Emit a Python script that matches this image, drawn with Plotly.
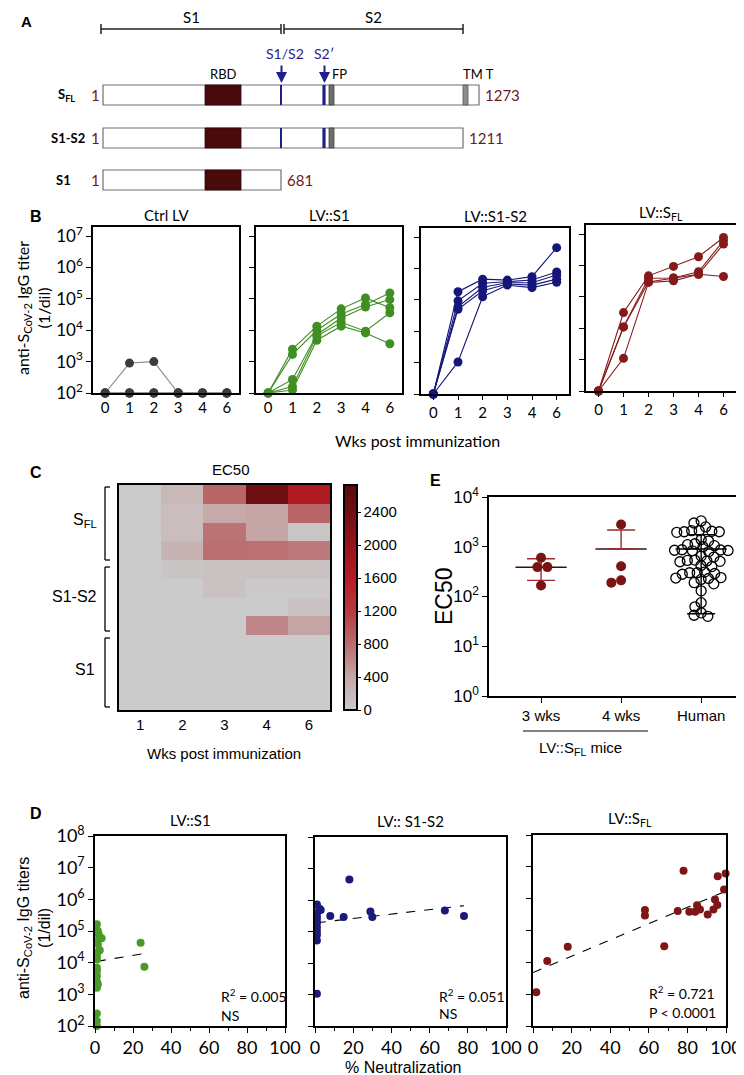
import plotly.graph_objects as go
import numpy as np

W, H = 744, 1075

# ---------------- Panel A (schematic, in schematic units) ----------------
constructs = ["S<sub>FL</sub>", "S1-S2", "S1"]
construct_len_labels = ["1273", "1211", "681"]
construct_end = [471, 455, 273]          # schematic end of each bar
construct_row = [87, 130, 172]           # schematic row centre
bar_start = 95
rbd_span = [197, 233]
s1s2_site = 273
s2p_site = 316
fp_span = [321, 326]
tm_span = [455, 460]
has_cleavage = [True, True, False]
has_tm = [True, False, False]
ruler_labels = ["S1", "S2"]
ruler_start = [93, 276]
ruler_end = [273, 455]

# ---------------- Panel B data (titers, 1/dil) ----------------
weeks_b = ["0", "1", "2", "3", "4", "6"]
ctrl_lv = [
    [100, 100, 100, 100, 100, 100],
    [100, 100, 100, 100, 100, 100],
    [100, 100, 100, 100, 100, 100],
    [100, 900, 1000, 100, 100, 100],
]
lv_s1 = [
    [100, 2500, 13500, 48000, 107000, 52000],
    [100, 1700, 10000, 33000, 66000, 155000],
    [100, 270, 7200, 24500, 55000, 95000],
    [100, 160, 6500, 18000, 9300, 36000],
    [100, 125, 4800, 13500, 8200, 3700],
]
lv_s1s2 = [
    [100, 182000, 457000, 427000, 550000, 4600000],
    [100, 93000, 339000, 380000, 427000, 776000],
    [100, 60000, 251000, 350000, 350000, 617000],
    [100, 50000, 195000, 320000, 295000, 457000],
    [100, 1050, 126000, 295000, 245000, 363000],
]
lv_sfl = [
    [100, 31600, 468000, 933000, 1900000, 7800000],
    [100, 11000, 390000, 398000, 630000, 6200000],
    [100, 1100, 288000, 324000, 525000, 447000],
    [100, 11000, 300000, 398000, 525000, 4800000],
]
b_titles = ["Ctrl LV", "LV::S1", "LV::S1-S2", "LV::S<sub>FL</sub>"]

# ---------------- Panel C data (EC50 heatmap) ----------------
weeks_c = ["1", "2", "3", "4", "6"]
ec50_rows = [
    [0, 200, 850, 2450, 1700],
    [0, 150, 350, 400, 850],
    [0, 150, 750, 400, 50],
    [0, 250, 780, 770, 700],
    [0, 60, 90, 100, 100],
    [0, 0, 100, 20, 20],
    [0, 0, 0, 0, 100],
    [0, 0, 0, 620, 400],
    [0, 0, 0, 0, 0],
    [0, 0, 0, 0, 0],
    [0, 0, 0, 0, 0],
    [0, 0, 0, 0, 0],
]
c_groups = ["S<sub>FL</sub>", "S1-S2", "S1"]

# ---------------- Panel E data ----------------
e_cats = ["3 wks", "4 wks", "Human"]
e_3wk = [390, 600, 390, 167]
e_4wk = [2800, 407, 190, 211]
e_human = [3300, 3000, 2500, 2000, 2100, 2050, 1950, 2000, 2100, 1400, 1300,
           1150, 1100, 1050, 1000, 870, 850, 830, 860, 840, 800, 650, 620,
           540, 520, 510, 530, 500, 420, 400, 300, 290, 310, 280, 300, 240,
           230, 235, 220, 190, 180, 130, 75, 62, 47, 40, 42]
e_mean = [387, 902, 900]
e_err_hi = [188, 1268, 850]
e_err_lo = [176, 0, 855]

# ---------------- Panel D data ----------------
d_s1_x = [1, 1.5, 2, 3.5, 1, 1.5, 2.5, 1, 1, 1, 1, 1, 1, 1, 1.5, 1, 1, 1, 1, 24, 26]
d_s1_y = [162000, 100000, 78000, 59000, 48000, 38000, 24500, 21000, 16200, 12700,
          6900, 5500, 3800, 2600, 2100, 1600, 250, 145, 100, 42600, 7400]
d_s1_fit_x = [1, 26]
d_s1_fit_y = [11000, 19500]
d_s1s2_x = [1, 2.3, 3, 1, 1, 1, 1, 1, 1, 1, 1, 1, 8, 15, 18, 29, 30, 68, 78]
d_s1s2_y = [725000, 525000, 480000, 380000, 295000, 233000, 182000, 135000, 100000,
            78000, 52000, 1050, 310000, 290000, 4500000, 430000, 290000, 460000, 310000]
d_s1s2_fit_x = [1, 78]
d_s1s2_fit_y = [190000, 660000]
d_sfl_x = [1.7, 7.4, 18, 58, 58, 68, 75, 78, 81, 84, 85, 86.5, 90.5, 93.5, 94.3, 95.5, 95.7, 99, 99.8]
d_sfl_y = [1150, 11000, 31000, 440000, 295000, 32000, 410000, 7600000, 390000, 390000,
           620000, 460000, 320000, 460000, 950000, 630000, 5100000, 1950000, 6200000]
d_sfl_fit_x = [0, 100]
d_sfl_fit_y = [4800, 1740000]
d_titles = ["LV::S1", "LV:: S1-S2", "LV::S<sub>FL</sub>"]
d_stats = [("R<sup>2</sup> = 0.005", "NS"), ("R<sup>2</sup> = 0.051", "NS"),
           ("R<sup>2</sup> = 0.721", "P < 0.0001")]

# ---------------- styling ----------------
CAL = "Lato, 'Open Sans', sans-serif"
ARI = "'Liberation Sans', Arial, sans-serif"
GREEN = "#3f8f22"
NAVY = "#16167a"
DRED = "#861a1a"
BROWN = "#6b1a1a"
BLUE = "#1f1f8c"

fig = go.Figure()
axes = {}


def add_axes(n, xpx, ypx, xkw, ykw):
    xa = "xaxis" if n == 1 else f"xaxis{n}"
    ya = "yaxis" if n == 1 else f"yaxis{n}"
    xr = "x" if n == 1 else f"x{n}"
    yr = "y" if n == 1 else f"y{n}"
    axes[xa] = dict(domain=[xpx[0] / W, xpx[1] / W], anchor=yr, automargin=False, **xkw)
    axes[ya] = dict(domain=[1 - ypx[1] / H, 1 - ypx[0] / H], anchor=xr, automargin=False, **ykw)
    return xr, yr


def base():
    return dict(showline=True, linecolor="black", linewidth=1.5, mirror=True,
                showgrid=False, zeroline=False, ticks="outside", tickcolor="black",
                ticklen=5, tickwidth=1.3)


annotations = []
shapes = []


def ann(text, x, y, size=14, family=CAL, color="black", xanchor="center",
        yanchor="middle", angle=0):
    annotations.append(dict(text=text, x=x / W, y=1 - y / H, xref="paper", yref="paper",
                            showarrow=False, xanchor=xanchor, yanchor=yanchor,
                            textangle=angle, font=dict(size=size, family=family, color=color)))


def pline(x0, y0, x1, y1, color="black", width=1.3):
    shapes.append(dict(type="line", xref="paper", yref="paper", x0=x0 / W, y0=1 - y0 / H,
                       x1=x1 / W, y1=1 - y1 / H, line=dict(color=color, width=width)))


# ---------------- Panel A ----------------
xa, ya = add_axes(10, (0, W), (0, 200),
                  dict(visible=False, range=[0, W]),
                  dict(visible=False, range=[200, 0]))


def ashape(**kw):
    d = dict(xref=xa, yref=ya)
    d.update(kw)
    shapes.append(d)


for lab, s, e in zip(ruler_labels, ruler_start, ruler_end):
    ashape(type="line", x0=s, x1=e, y0=21, y1=21, line=dict(color="#222", width=1.5))
    ashape(type="line", x0=s, x1=s, y0=16, y1=26, line=dict(color="#222", width=1.5))
    ashape(type="line", x0=e, x1=e, y0=16, y1=26, line=dict(color="#222", width=1.5))
    ann(lab, (s + e) / 2, 9, size=15)

for i, name in enumerate(constructs):
    yc = construct_row[i]
    ashape(type="rect", x0=bar_start, x1=construct_end[i], y0=yc - 10, y1=yc + 10,
           line=dict(color="#707070", width=1.2), fillcolor="white")
    ashape(type="rect", x0=rbd_span[0], x1=rbd_span[1], y0=yc - 10, y1=yc + 10,
           line=dict(color="#2a0505", width=0.8), fillcolor="#4a0a0c")
    if has_cleavage[i]:
        ashape(type="rect", x0=s1s2_site - 1, x1=s1s2_site + 1, y0=yc - 10, y1=yc + 10,
               line=dict(width=0), fillcolor=BLUE)
        ashape(type="rect", x0=s2p_site - 1.6, x1=s2p_site + 1.6, y0=yc - 10, y1=yc + 10,
               line=dict(width=0), fillcolor=BLUE)
        ashape(type="rect", x0=fp_span[0], x1=fp_span[1], y0=yc - 10, y1=yc + 10,
               line=dict(color="#444", width=0.8), fillcolor="#6d6d6d")
    if has_tm[i]:
        ashape(type="rect", x0=tm_span[0], x1=tm_span[1], y0=yc - 10, y1=yc + 10,
               line=dict(color="#555", width=0.8), fillcolor="#8d8d8d")
    ann("<b>" + name + "</b>", [58, 60, 55][i], yc, size=13)
    ann("1", 87, yc, size=15, color=BROWN)
    ann(construct_len_labels[i], construct_end[i] + 4, yc, size=15, color=BROWN, xanchor="left")

for site, lab in [(s1s2_site, "S1/S2"), (s2p_site, "S2\u2032")]:
    annotations.append(dict(x=site + 0.5, y=75, ax=site + 0.5, ay=56, xref=xa, yref=ya,
                            axref=xa, ayref=ya, showarrow=True, arrowhead=2, arrowsize=1.1,
                            arrowwidth=2, arrowcolor=BLUE, text=""))
    ann(lab, site + (4 if lab == "S1/S2" else 0), 46, size=14, color=BLUE)
ann("RBD", (rbd_span[0] + rbd_span[1]) / 2, 66, size=13)
ann("FP", fp_span[0] + 1, 66, size=13, xanchor="left")
ann("TM T", tm_span[0] - 2, 66, size=13, xanchor="left")
ann("<b>A</b>", 18, 13, size=15, family=ARI)

# ---------------- Panel B ----------------
b_boxes = [((85, 231), (219, 385)), ((248, 394), (219, 385)),
           ((413, 561), (220, 386)), ((578, 728), (217, 383))]
b_sets = [(ctrl_lv, "#3c3c3c", "#8a8a8a"), (lv_s1, GREEN, GREEN),
          (lv_s1s2, NAVY, NAVY), (lv_sfl, DRED, DRED)]
ytv = [1e2, 1e3, 1e4, 1e5, 1e6, 1e7]
ytt = [f"10<sup>{k}</sup>" for k in range(2, 8)]
for k in range(4):
    xkw = base()
    xkw.update(type="category", categoryorder="array", categoryarray=weeks_b,
               range=[-0.5, 5.5], ticks="" if k < 2 else "outside", ticklen=4,
               tickfont=dict(family=CAL, size=15, color="black"))
    ykw = base()
    ykw.update(type="log", range=[2, 7.29], tickvals=ytv, ticktext=ytt,
               showticklabels=(k == 0), tickfont=dict(family=CAL, size=17, color="black"))
    xr, yr = add_axes(k + 1, b_boxes[k][0], b_boxes[k][1], xkw, ykw)
    data, mc, lc = b_sets[k]
    for mouse in data:
        fig.add_trace(go.Scatter(x=weeks_b, y=mouse, mode="lines+markers",
                                 line=dict(color=lc, width=1.1),
                                 marker=dict(color=mc, size=9), cliponaxis=False,
                                 xaxis=xr, yaxis=yr, showlegend=False, hoverinfo="skip"))
    (x0, x1), (y0, y1) = b_boxes[k]
    ann(b_titles[k], (x0 + x1) / 2, y0 - 12, size=15)
ann("<b>B</b>", 28, 208, size=16, family=ARI)
ann("anti-S<sub>CoV-2</sub> IgG titer<br>(1/dil)", 25, 300, size=16, angle=-90)
ann("Wks post immunization", 410, 432, size=16)

# ---------------- Panel C ----------------
cscale = [[0, "rgb(203,203,203)"], [0.147, "rgb(197,165,165)"], [0.293, "rgb(186,108,110)"],
          [0.44, "rgb(182,58,62)"], [0.587, "rgb(183,28,34)"], [0.733, "rgb(150,20,25)"],
          [0.88, "rgb(112,15,18)"], [1, "rgb(88,12,14)"]]
xkw = base()
xkw.update(type="category", categoryorder="array", categoryarray=weeks_c, ticks="",
           tickfont=dict(family=ARI, size=15, color="black"))
ykw = base()
ykw.update(range=[11.5, -0.5], showticklabels=False, ticks="")
xr, yr = add_axes(5, (111, 322), (477, 702), xkw, ykw)
fig.add_trace(go.Heatmap(z=ec50_rows, x=weeks_c, y=list(range(len(ec50_rows))),
                         colorscale=cscale, zmin=0, zmax=2730, xaxis=xr, yaxis=yr,
                         hoverinfo="skip",
                         colorbar=dict(x=336 / W, xanchor="left", xpad=0, y=1 - 477 / H,
                                       yanchor="top", ypad=0, len=225 / H, lenmode="fraction",
                                       thickness=13, thicknessmode="pixels", outlinewidth=2,
                                       outlinecolor="black", tickvals=list(range(0, 2401, 400)),
                                       ticks="outside", ticklen=3, tickcolor="black",
                                       tickfont=dict(family=ARI, size=15, color="black"))))
ann("EC50", 223, 461, size=15, family=ARI)
ann("<b>C</b>", 28, 465, size=16, family=ARI)
ann("Wks post immunization", 216, 745, size=15, family=ARI)
brackets = [(479, 552), (559, 623), (630, 699)]
label_x = [77, 66, 77]
for g, (b0, b1), lx in zip(c_groups, brackets, label_x):
    pline(97, b0, 97, b1)
    pline(97, b0, 102, b0)
    pline(97, b1, 102, b1)
    ann(g, lx, (b0 + b1) / 2 - 3, size=16, family=ARI)

# ---------------- Panel E ----------------
PX_PER_X = 80.0
PX_PER_DEC = 49.75


def swarm_offsets(vals, diam):
    ys = np.log10(np.array(vals, float)) * PX_PER_DEC
    placed = []
    offs = [0.0] * len(vals)
    order = sorted(range(len(vals)), key=lambda i: -vals[i])
    flip = 1
    for i in order:
        y = ys[i]
        cands = [0.0]
        for xo, yo in placed:
            dy = abs(y - yo)
            if dy < diam:
                dx = np.sqrt(diam ** 2 - dy ** 2)
                cands += [xo + dx * flip, xo - dx * flip]
        cands.sort(key=abs)
        for c in cands:
            if all((c - xo) ** 2 + (y - yo) ** 2 >= diam ** 2 - 1e-6 for xo, yo in placed):
                offs[i] = c
                placed.append((c, y))
                break
        flip = -flip
    return [o / PX_PER_X for o in offs]


xkw = base()
xkw.update(range=[-0.65, 2.61], tickvals=[0, 1, 2], ticktext=e_cats, mirror=True,
           tickfont=dict(family=ARI, size=15, color="black"))
ykw = base()
ykw.update(type="log", range=[0, 4], tickvals=[1, 10, 100, 1000, 10000],
           ticktext=[f"10<sup>{k}</sup>" for k in range(5)],
           tickfont=dict(family=ARI, size=17, color="black"))
xr, yr = add_axes(6, (481, 742), (489, 688), xkw, ykw)
groups_e = [(0, e_3wk, "mouse"), (1, e_4wk, "mouse"), (2, e_human, "human")]
for gi, vals, kind in groups_e:
    offs = swarm_offsets(vals, 10 if kind == "mouse" else 7.5)
    xs = [gi + o for o in offs]
    if kind == "mouse":
        mk = dict(color="#7a1414", size=10)
    else:
        mk = dict(color="rgba(0,0,0,0)", size=10, line=dict(color="black", width=1.3))
    ecol = "#a02a2a" if kind == "mouse" else "black"
    mcol = "#3a0f0f" if kind == "mouse" else "black"
    fig.add_trace(go.Scatter(x=[gi - 0.32, gi + 0.32], y=[e_mean[gi]] * 2, mode="lines",
                             line=dict(color=mcol, width=1.4), xaxis=xr, yaxis=yr,
                             showlegend=False, hoverinfo="skip"))
    fig.add_trace(go.Scatter(x=[gi], y=[e_mean[gi]], mode="markers",
                             marker=dict(size=1, color="rgba(0,0,0,0)"),
                             error_y=dict(type="data", symmetric=False, array=[e_err_hi[gi]],
                                          arrayminus=[e_err_lo[gi]], color=ecol,
                                          thickness=1.4, width=14),
                             xaxis=xr, yaxis=yr, showlegend=False, hoverinfo="skip"))
    fig.add_trace(go.Scatter(x=xs, y=vals, mode="markers", marker=mk, cliponaxis=False,
                             xaxis=xr, yaxis=yr, showlegend=False, hoverinfo="skip"))
ann("<b>E</b>", 427, 473, size=16, family=ARI)
ann("EC50", 436, 588, size=23, family=ARI, angle=-90)
pline(515, 723, 640, 723, width=1.2)
ann("LV::S<sub>FL</sub> mice", 572, 740, size=15, family=ARI)

# ---------------- Panel D ----------------
d_boxes = [((87, 277), (828, 1018)), ((307, 498), (829, 1018)), ((525, 718), (827, 1018))]
d_sets = [(d_s1_x, d_s1_y, d_s1_fit_x, d_s1_fit_y, "#4a9a2a"),
          (d_s1s2_x, d_s1s2_y, d_s1s2_fit_x, d_s1s2_fit_y, "#1a1a7a"),
          (d_sfl_x, d_sfl_y, d_sfl_fit_x, d_sfl_fit_y, "#7f1515")]
dtv = [10 ** k for k in range(2, 9)]
dtt = [f"10<sup>{k}</sup>" for k in range(2, 9)]
stat_pos = [(211, 987, 1007), (429, 987, 1005), (639, 984, 1004)]
for k in range(3):
    xkw = base()
    xkw.update(range=[0, 100], tickvals=list(range(0, 101, 20)),
               minor=dict(ticks="outside", dtick=10, ticklen=3, tickcolor="black", tickwidth=1.2),
               tickfont=dict(family=CAL, size=18, color="black"))
    ykw = base()
    ykw.update(type="log", range=[2, 8], tickvals=dtv, ticktext=dtt, showticklabels=(k == 0),
               tickfont=dict(family=CAL, size=18, color="black"))
    xr, yr = add_axes(7 + k, d_boxes[k][0], d_boxes[k][1], xkw, ykw)
    dx, dy, fx, fy, col = d_sets[k]
    fig.add_trace(go.Scatter(x=fx, y=fy, mode="lines", line=dict(color="black", width=1.1, dash="dash"),
                             xaxis=xr, yaxis=yr, showlegend=False, hoverinfo="skip"))
    fig.add_trace(go.Scatter(x=dx, y=dy, mode="markers", marker=dict(color=col, size=8),
                             cliponaxis=False, xaxis=xr, yaxis=yr, showlegend=False,
                             hoverinfo="skip"))
    (x0, x1), (y0, y1) = d_boxes[k]
    ann(d_titles[k], (x0 + x1) / 2, y0 - 16, size=15)
    sx, sy1, sy2 = stat_pos[k]
    ann(d_stats[k][0], sx, sy1, size=14, xanchor="left")
    ann(d_stats[k][1], sx, sy2, size=14, xanchor="left")
ann("<b>D</b>", 28, 805, size=16, family=ARI)
ann("anti-S<sub>CoV-2</sub> IgG titers<br>(1/dil)", 26, 920, size=16, family=ARI, angle=-90)
ann("% Neutralization", 395, 1059, size=16, family=ARI)

fig.update_layout(width=W, height=H,
                  margin=dict(l=0, r=0, t=0, b=0, pad=0, autoexpand=False),
                  paper_bgcolor="white", plot_bgcolor="white", showlegend=False,
                  annotations=annotations, shapes=shapes, **axes)
fig.write_html("out.html")
